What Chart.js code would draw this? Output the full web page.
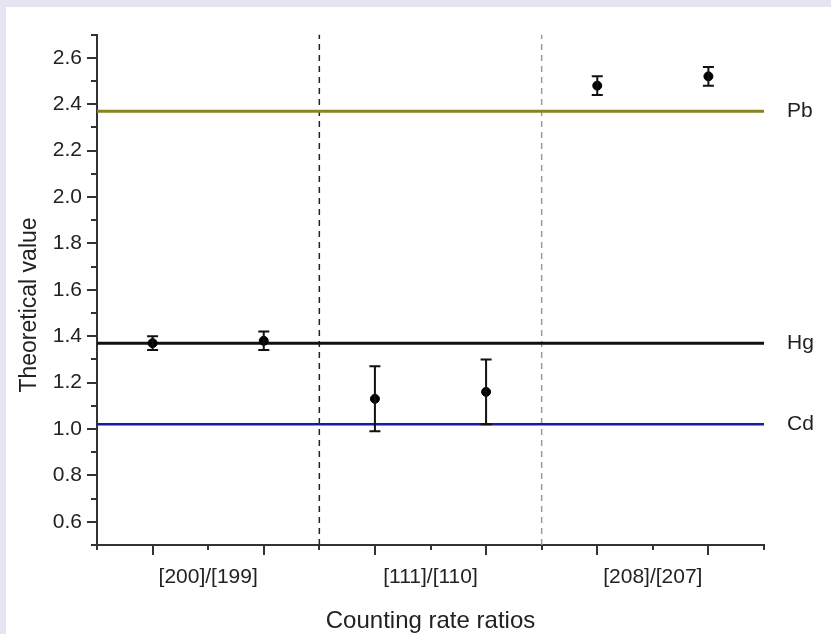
<!DOCTYPE html>
<html>
<head>
<meta charset="utf-8">
<script src="https://cdn.jsdelivr.net/npm/chart.js@4.4.1/dist/chart.umd.min.js"></script>
<style>
    html, body { margin: 0; padding: 0; background: #e5e5f1; }
    #wrap { position: absolute; left: 6px; top: 7px; width: 825px; height: 627px; background: #fff; }
</style>
</head>
<body>
<div id="wrap"><canvas id="ratio-chart" width="825" height="627"></canvas></div>
<script>
// Datos
const positions = [1, 3, 5, 7, 9, 11];
const ratios = [1.37, 1.38, 1.13, 1.16, 2.48, 2.52];
const errors = [0.03, 0.04, 0.14, 0.14, 0.04, 0.04];

const groupLabels = ['[200]/[199]', '[111]/[110]', '[208]/[207]'];
const groupCenters = [2, 6, 10];
const dividers = [4, 8];

const elements = ['Pb', 'Hg', 'Cd'];
const elementValues = [2.37, 1.37, 1.02];
const elementColors = ['#85851c', '#111111', '#1a1aa8'];
const elementWidths = [3, 3, 2.5];

const xMin = 0, xMax = 12;
const yMin = 0.5, yMax = 2.7;

const FONT = "'Liberation Sans', Arial, sans-serif";
const TEXT = '#222';

// Marcas de los ejes (mayores y menores) hacia fuera
const tickMarks = {
    id: 'tickMarks',
    afterDraw(chart) {
        const {ctx, chartArea, scales: {x, y}} = chart;
        ctx.save();
        ctx.strokeStyle = '#333';
        ctx.lineWidth = 2;
        y.ticks.forEach(t => {
            const py = Math.round(y.getPixelForValue(t.value));
            const len = t.label !== '' ? 10 : 6;
            ctx.beginPath();
            ctx.moveTo(chartArea.left - len, py);
            ctx.lineTo(chartArea.left, py);
            ctx.stroke();
        });
        x.ticks.forEach(t => {
            const px = Math.round(x.getPixelForValue(t.value));
            const len = Math.round(t.value) % 2 === 1 ? 10 : 5;
            ctx.beginPath();
            ctx.moveTo(px, chartArea.bottom);
            ctx.lineTo(px, chartArea.bottom + len);
            ctx.stroke();
        });
        ctx.restore();
    }
};

// Barras de error
const errorBars = {
    id: 'errorBars',
    afterDatasetsDraw(chart) {
        const {ctx, scales: {x, y}} = chart;
        ctx.save();
        ctx.strokeStyle = '#111';
        ctx.lineWidth = 2;
        positions.forEach((p, i) => {
            const px = x.getPixelForValue(p);
            const top = y.getPixelForValue(ratios[i] + errors[i]);
            const bot = y.getPixelForValue(ratios[i] - errors[i]);
            ctx.beginPath();
            ctx.moveTo(px, top); ctx.lineTo(px, bot);
            ctx.moveTo(px - 5.5, top); ctx.lineTo(px + 5.5, top);
            ctx.moveTo(px - 5.5, bot); ctx.lineTo(px + 5.5, bot);
            ctx.stroke();
        });
        ctx.restore();
    }
};

// Etiquetas de elementos y títulos de ejes
const annotations = {
    id: 'annotations',
    afterDraw(chart) {
        const {ctx, chartArea, scales: {y}} = chart;
        ctx.save();
        ctx.fillStyle = TEXT;
        ctx.font = '21px ' + FONT;
        ctx.textAlign = 'left';
        ctx.textBaseline = 'middle';
        elements.forEach((name, i) => {
            ctx.fillText(name, chartArea.right + 23, y.getPixelForValue(elementValues[i]));
        });

        ctx.font = '24px ' + FONT;
        ctx.textAlign = 'center';
        ctx.fillText('Counting rate ratios', (chartArea.left + chartArea.right) / 2, 614);

        ctx.translate(24, 298);
        ctx.rotate(-Math.PI / 2);
        ctx.font = '23px ' + FONT;
        ctx.fillText('Theoretical value', 0, 0);
        ctx.restore();
    }
};

const datasets = [{
    label: 'Ratios',
    data: positions.map((p, i) => ({x: p, y: ratios[i]})),
    backgroundColor: '#000',
    borderColor: '#000',
    pointRadius: 4.5,
    showLine: false,
    order: 0
}];

elements.forEach((name, i) => {
    datasets.push({
        label: name,
        data: [{x: xMin, y: elementValues[i]}, {x: xMax, y: elementValues[i]}],
        borderColor: elementColors[i],
        borderWidth: elementWidths[i],
        pointRadius: 0,
        showLine: true,
        order: 1
    });
});

dividers.forEach((d, i) => {
    datasets.push({
        label: 'div' + d,
        data: [{x: d, y: yMin}, {x: d, y: yMax}],
        borderColor: i === 0 ? '#222' : '#9a9a9a',
        borderWidth: 1.5,
        borderDash: [6, 5],
        pointRadius: 0,
        showLine: true,
        order: 2
    });
});

new Chart(document.getElementById('ratio-chart'), {
    type: 'scatter',
    data: { datasets },
    options: {
        responsive: false,
        animation: false,
        devicePixelRatio: 1,
        layout: { padding: { top: 26, right: 67, left: 0, bottom: 0 } },
        plugins: { legend: { display: false }, tooltip: { enabled: false } },
        scales: {
            x: {
                type: 'linear',
                min: xMin, max: xMax,
                afterFit: s => { s.height = 89; },
                grid: { display: false, drawTicks: false },
                border: { display: true, color: '#333', width: 2 },
                ticks: {
                    stepSize: 1,
                    autoSkip: false,
                    maxRotation: 0, minRotation: 0,
                    padding: 20,
                    color: TEXT,
                    font: { family: FONT, size: 21 },
                    callback: v => {
                        const k = groupCenters.indexOf(Math.round(v));
                        return k >= 0 ? groupLabels[k] : '';
                    }
                }
            },
            y: {
                min: yMin, max: yMax,
                afterFit: s => { s.width = 91; },
                grid: { display: false, drawTicks: false },
                border: { display: true, color: '#333', width: 2 },
                ticks: {
                    stepSize: 0.1,
                    autoSkip: false,
                    padding: 15,
                    color: TEXT,
                    font: { family: FONT, size: 21 },
                    callback: v => {
                        const t = Math.round(v * 10);
                        return t % 2 === 0 ? (t / 10).toFixed(1) : '';
                    }
                }
            }
        }
    },
    plugins: [tickMarks, errorBars, annotations]
});
</script>
</body>
</html>
